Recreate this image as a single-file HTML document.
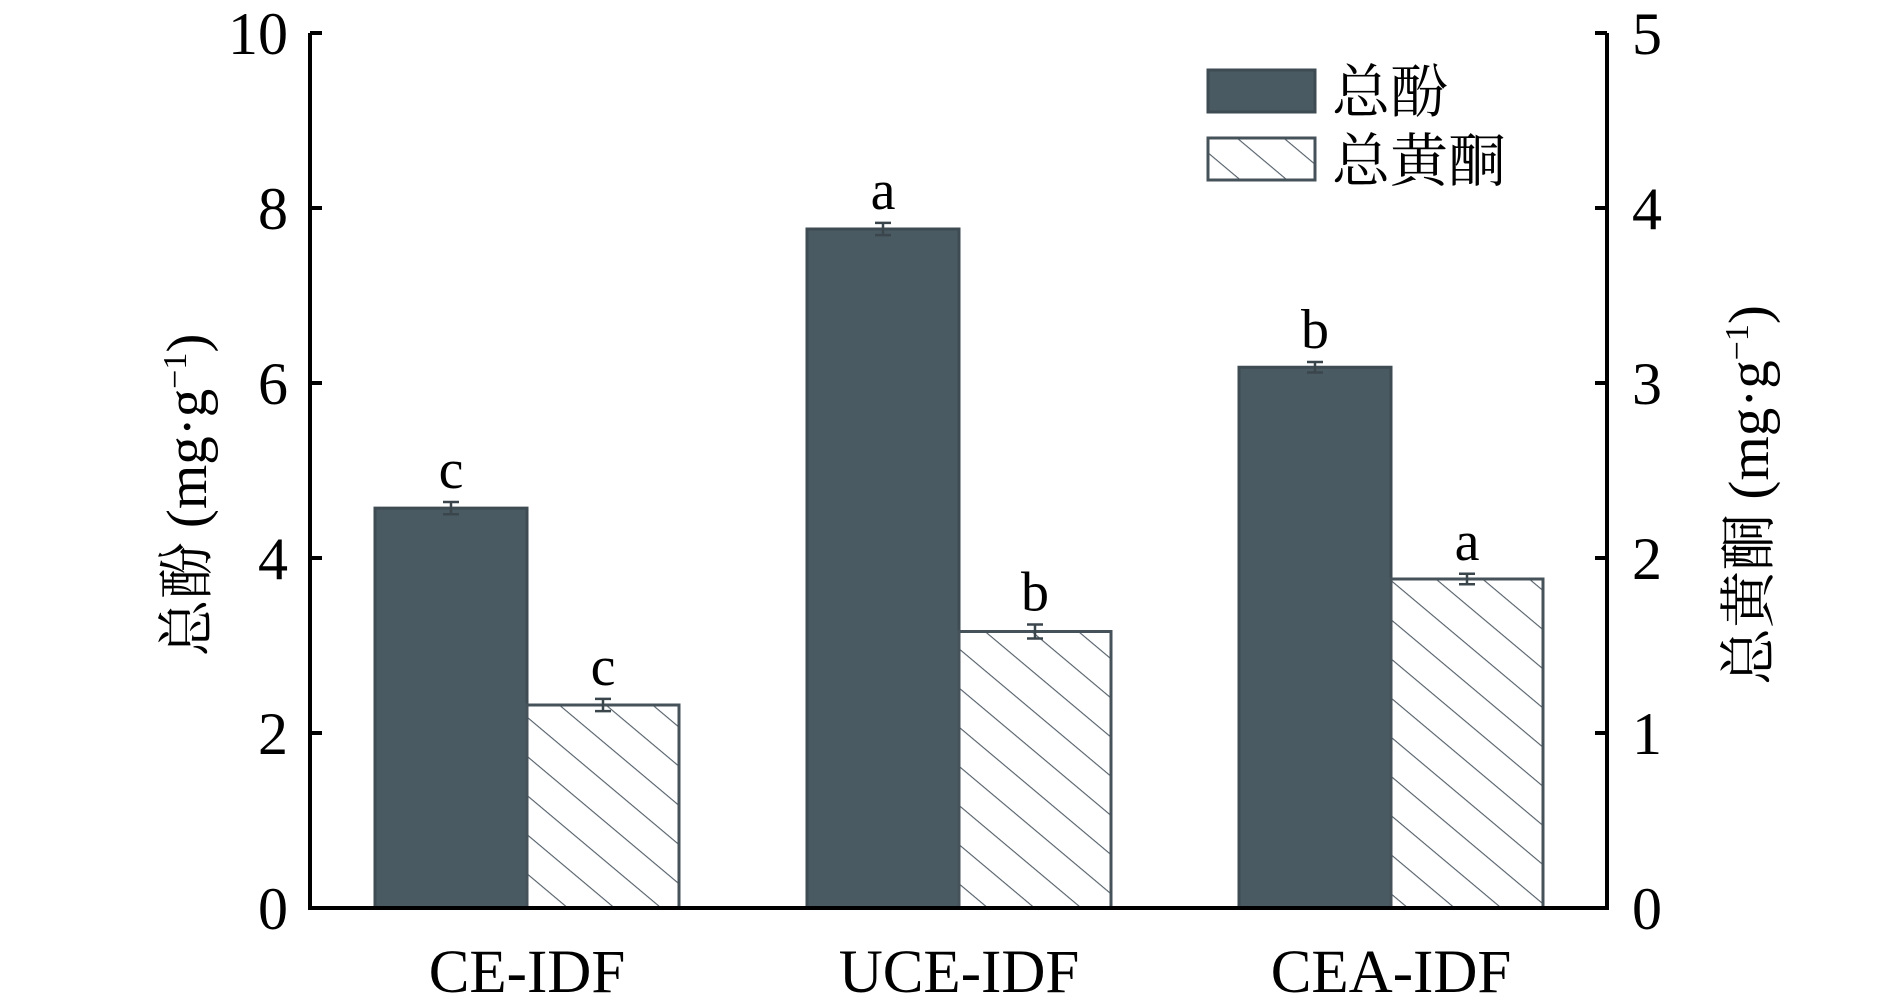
<!DOCTYPE html>
<html><head><meta charset="utf-8">
<style>
html,body{margin:0;padding:0;background:#fff;}
svg{display:block;}
text{font-family:"Liberation Serif","Noto Serif CJK SC","Noto Sans CJK SC",serif;fill:#000;}
</style></head>
<body>
<svg id="chart" width="1890" height="1007" viewBox="0 0 1890 1007">
<defs>
<pattern id="hatch" patternUnits="userSpaceOnUse" width="30" height="30" patternTransform="rotate(40)">
<rect width="30" height="30" fill="#fff"/>
<line x1="0" y1="0" x2="30" y2="0" stroke="#55606a" stroke-width="2.2"/>
</pattern>
</defs>
<g id="marks"></g>
<g id="axes"></g>
</svg>
<script>
const categories = ["CE-IDF", "UCE-IDF", "CEA-IDF"];
const phenolValues = [4.57, 7.76, 6.18];
const phenolErrors = [0.07, 0.07, 0.06];
const flavValues = [1.16, 1.58, 1.88];
const flavErrors = [0.035, 0.04, 0.03];
const phenolLetters = ["c", "a", "b"];
const flavLetters = ["c", "b", "a"];
const leftTicks = [0, 2, 4, 6, 8, 10];
const rightTicks = [0, 1, 2, 3, 4, 5];

const NS = "http://www.w3.org/2000/svg";
const X0 = 310, X1 = 1607, Y0 = 908, Y1 = 33;
const yL = v => Y0 - (v / 10) * (Y0 - Y1);
const yR = v => Y0 - (v / 5) * (Y0 - Y1);
const groupCenter = i => 527 + i * 432;
const BW = 152;
function el(tag, attrs, parent, txt) {
  const e = document.createElementNS(NS, tag);
  for (const k in attrs) e.setAttribute(k, attrs[k]);
  if (txt !== undefined) e.textContent = txt;
  parent.appendChild(e);
  return e;
}
const marks = document.getElementById("marks");
const axes = document.getElementById("axes");

function errBar(x, yTop, yBot, parent) {
  const g = el("g", {stroke: "#3a464c", "stroke-width": 2.5}, parent);
  
  
  el("line", {x1: x, x2: x, y1: yTop, y2: yBot}, g);
  el("line", {x1: x - 8, x2: x + 8, y1: yTop, y2: yTop}, g);
  el("line", {x1: x - 8, x2: x + 8, y1: yBot, y2: yBot}, g);
}

categories.forEach((c, i) => {
  const cx = groupCenter(i);
  const y = yL(phenolValues[i]);
  const b = el("rect", {x: cx - BW, y: y, width: BW, height: Y0 - y, fill: "#4a5a62", stroke: "#3e4b52", "stroke-width": 3}, marks);
  
  
  errBar(cx - BW / 2, yL(phenolValues[i] + phenolErrors[i]), yL(phenolValues[i] - phenolErrors[i]), marks);
  const t = el("text", {x: cx - BW / 2, y: yL(phenolValues[i] + phenolErrors[i]) - 14, "font-size": 56, "text-anchor": "middle"}, marks, phenolLetters[i]);
  
  
  const y2 = yR(flavValues[i]);
  const b2 = el("rect", {x: cx, y: y2, width: BW, height: Y0 - y2, fill: "url(#hatch)", stroke: "#45525a", "stroke-width": 3}, marks);
  
  
  errBar(cx + BW / 2, yR(flavValues[i] + flavErrors[i]), yR(flavValues[i] - flavErrors[i]), marks);
  const t2 = el("text", {x: cx + BW / 2, y: yR(flavValues[i] + flavErrors[i]) - 14, "font-size": 56, "text-anchor": "middle"}, marks, flavLetters[i]);
  
  
  const xl = el("text", {x: cx, y: 992, "font-size": 61, "text-anchor": "middle"}, axes, c);
  
  
});

const ax = el("path", {d: `M${X0},${Y1} V${Y0} H${X1} V${Y1}`, fill: "none", stroke: "#000", "stroke-width": 4}, axes);


leftTicks.forEach(v => {
  const y = yL(v);
  el("line", {x1: X0, x2: X0 + 12, y1: y, y2: y, stroke: "#000", "stroke-width": 4}, axes);
  const t = el("text", {x: 288, y: y + 21, "font-size": 60, "text-anchor": "end"}, axes, String(v));
  
  
});
rightTicks.forEach(v => {
  const y = yR(v);
  el("line", {x1: X1 - 12, x2: X1, y1: y, y2: y, stroke: "#000", "stroke-width": 4}, axes);
  const t = el("text", {x: 1632, y: y + 21, "font-size": 60, "text-anchor": "start"}, axes, String(v));
  
  
});
</script>
<script>
(function(){
  const svg = document.getElementById("chart");
  const NS = "http://www.w3.org/2000/svg";
  const g = document.createElementNS(NS, "g");
  g.innerHTML =
   '<text transform="translate(206,495) rotate(-90)" font-size="57" text-anchor="middle">总酚 (mg·g<tspan dy="-20" font-size="34">−1</tspan><tspan dy="20">)</tspan></text>' +
   '<text transform="translate(1768,495) rotate(-90)" font-size="57" text-anchor="middle">总黄酮 (mg·g<tspan dy="-20" font-size="34">−1</tspan><tspan dy="20">)</tspan></text>' +
   '<g>' +
   '<rect x="1208" y="70" width="107" height="42" fill="#4a5a62" stroke="#3e4b52" stroke-width="3"/>' +
   '<text x="1332" y="112" font-size="58">总酚</text>' +
   '<rect x="1208" y="138" width="107" height="42" fill="url(#hatch)" stroke="#45525a" stroke-width="3"/>' +
   '<text x="1332" y="181" font-size="58">总黄酮</text>' +
   '</g>';
  svg.appendChild(g);
})();
</script>
</body></html>
